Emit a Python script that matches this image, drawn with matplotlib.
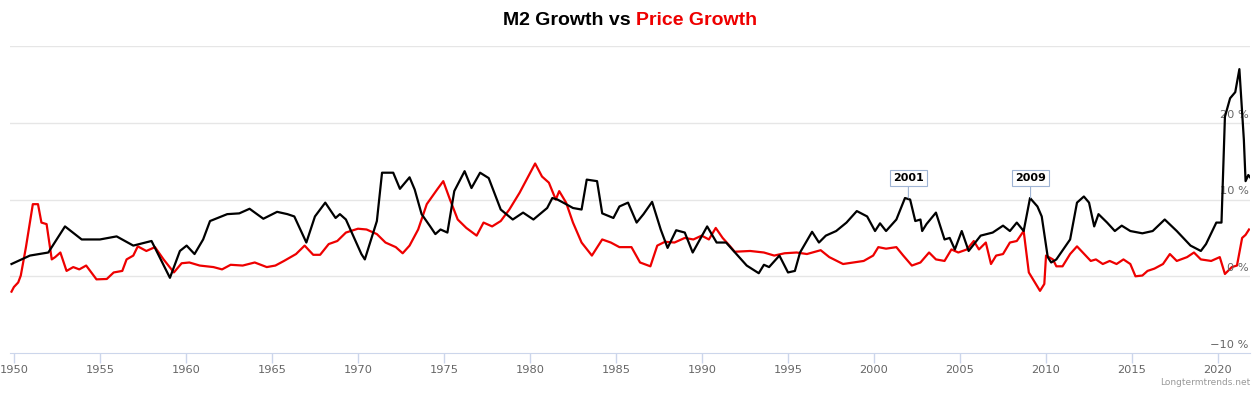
import matplotlib
matplotlib.use("Agg")
import matplotlib.pyplot as plt
from matplotlib.transforms import blended_transform_factory

# M2 growth (black): decimal year, % yoy
m2_years = [1949.86, 1950.93, 1952.0, 1952.97, 1953.94, 1955.0, 1955.97, 1956.94, 1958.0, 1959.07,
            1959.65, 1960.04, 1960.5, 1961.0, 1961.4, 1962.4, 1963.1, 1963.7, 1964.5, 1965.3,
            1965.9, 1966.3, 1967.0, 1967.5, 1968.1, 1968.7, 1968.95, 1969.3, 1970.2, 1970.4,
            1971.1, 1971.4, 1972.05, 1972.44, 1973.0, 1973.3, 1973.7, 1974.2, 1974.5, 1974.8,
            1975.2, 1975.6, 1976.2, 1976.6, 1977.1, 1977.6, 1978.3, 1979.0, 1979.6, 1980.2,
            1981.0, 1981.3, 1981.6, 1982.1, 1982.5, 1983.0, 1983.3, 1983.9, 1984.2, 1984.85,
            1985.2, 1985.7, 1986.2, 1986.6, 1987.1, 1987.6, 1988.0, 1988.5, 1989.0, 1989.46,
            1990.3, 1990.85, 1991.4, 1992.0, 1992.6, 1993.3, 1993.6, 1993.9, 1994.5, 1995.0,
            1995.4, 1995.7, 1996.4, 1996.8, 1997.2, 1997.8, 1998.4, 1999.0, 1999.6, 2000.06,
            2000.35, 2000.7, 2001.3, 2001.8, 2002.1, 2002.4, 2002.7, 2002.8, 2003.05, 2003.6,
            2004.1, 2004.4, 2004.7, 2005.1, 2005.5, 2006.2, 2006.9, 2007.5, 2007.9, 2008.3,
            2008.7, 2009.07, 2009.5, 2009.75, 2010.1, 2010.3, 2010.6, 2011.4, 2011.8, 2012.2,
            2012.5, 2012.8, 2013.05, 2013.55, 2014.0, 2014.4, 2014.9, 2015.6, 2016.2, 2016.9,
            2017.6, 2018.4, 2019.0, 2019.3, 2019.9, 2020.2, 2020.4, 2020.7, 2021.0, 2021.24,
            2021.5, 2021.6, 2021.76, 2021.86]
m2_values = [1.6, 2.7, 3.1, 6.5, 4.8, 4.8, 5.2, 4.0, 4.6, -0.2,
             3.3, 4.0, 2.9, 4.8, 7.2, 8.1, 8.2, 8.8, 7.5, 8.4,
             8.1, 7.8, 4.4, 7.8, 9.6, 7.6, 8.1, 7.4, 2.9, 2.2,
             7.2, 13.5, 13.5, 11.4, 12.9, 11.3, 8.1, 6.5, 5.5, 6.1,
             5.7, 11.1, 13.7, 11.5, 13.5, 12.8, 8.7, 7.4, 8.3, 7.4,
             8.9, 10.2, 10.0, 9.4, 8.9, 8.7, 12.6, 12.4, 8.2, 7.6,
             9.1, 9.6, 7.0, 8.1, 9.7, 6.1, 3.7, 6.0, 5.7, 3.1,
             6.5, 4.4, 4.4, 2.9, 1.4, 0.4, 1.5, 1.2, 2.7, 0.5,
             0.7, 3.1, 5.8, 4.4, 5.3, 5.9, 7.0, 8.5, 7.8, 5.9,
             6.9, 5.9, 7.4, 10.2, 10.0, 7.2, 7.4, 5.9, 6.8, 8.3,
             4.8, 5.0, 3.5, 5.9, 3.3, 5.3, 5.7, 6.6, 5.9, 7.0,
             5.9, 10.2, 9.1, 7.8, 2.5, 1.8, 2.2, 4.8, 9.6, 10.4,
             9.6, 6.5, 8.1, 7.0, 5.9, 6.6, 5.9, 5.6, 5.9, 7.4,
             5.9, 4.0, 3.3, 4.2, 7.0, 7.0, 20.8, 23.2, 24.0, 27.0,
             17.8, 12.4, 13.2, 12.9]

# price growth (red)
cpi_years = [1949.86, 1950.0, 1950.25, 1950.4, 1950.7, 1951.1, 1951.4, 1951.6, 1951.9, 1952.2,
             1952.4, 1952.7, 1953.06, 1953.45, 1953.8, 1954.2, 1954.8, 1955.4, 1955.8, 1956.3,
             1956.55, 1956.94, 1957.2, 1957.7, 1958.2, 1958.7, 1959.3, 1959.75, 1960.2, 1960.8,
             1961.6, 1962.1, 1962.6, 1963.3, 1964.0, 1964.7, 1965.2, 1965.7, 1966.4, 1966.9,
             1967.4, 1967.8, 1968.3, 1968.8, 1969.3, 1970.0, 1970.5, 1971.1, 1971.6, 1972.2,
             1972.6, 1973.0, 1973.5, 1974.0, 1974.6, 1974.96, 1975.35, 1975.8, 1976.3, 1976.9,
             1977.3, 1977.8, 1978.3, 1978.8, 1979.4, 1979.9, 1980.3, 1980.7, 1981.1, 1981.5,
             1981.7, 1982.1, 1982.5, 1983.0, 1983.6, 1984.2, 1984.7, 1985.2, 1985.9, 1986.4,
             1987.0, 1987.4, 1987.85, 1988.4, 1989.0, 1989.5, 1989.98, 1990.4, 1990.8, 1991.2,
             1991.6, 1991.9, 1992.8, 1993.6, 1994.2, 1994.8, 1995.5, 1996.1, 1996.9, 1997.4,
             1998.2, 1998.8, 1999.4, 1999.95, 2000.25, 2000.7, 2001.3, 2001.7, 2002.2, 2002.7,
             2003.2, 2003.6, 2004.1, 2004.5, 2004.9, 2005.4, 2005.8, 2006.1, 2006.5, 2006.8,
             2007.1, 2007.5, 2007.9, 2008.3, 2008.7, 2009.0, 2009.3, 2009.65, 2009.9, 2010.0,
             2010.4, 2010.6, 2010.96, 2011.4, 2011.8, 2012.3, 2012.6, 2012.9, 2013.3, 2013.7,
             2014.1, 2014.5, 2014.9, 2015.2, 2015.6, 2015.9, 2016.3, 2016.8, 2017.2, 2017.6,
             2018.2, 2018.6, 2019.0, 2019.6, 2020.1, 2020.4, 2020.8, 2021.1, 2021.4, 2021.6,
             2021.8]
cpi_values = [-2.0, -1.4, -0.8, 0.1, 3.8, 9.4, 9.4, 7.0, 6.8, 2.2,
              2.5, 3.1, 0.7, 1.2, 0.9, 1.4, -0.4, -0.35, 0.5, 0.7,
              2.2, 2.7, 3.9, 3.3, 3.8, 2.2, 0.5, 1.7, 1.8, 1.4,
              1.2, 0.9, 1.5, 1.4, 1.8, 1.2, 1.4, 2.0, 2.9, 4.0,
              2.8, 2.8, 4.2, 4.6, 5.7, 6.2, 6.1, 5.5, 4.4, 3.8,
              3.0, 4.0, 6.1, 9.4, 11.3, 12.4, 10.0, 7.4, 6.3, 5.3,
              7.0, 6.5, 7.2, 8.7, 10.9, 13.0, 14.7, 13.0, 12.2, 10.0,
              11.1, 9.6, 7.0, 4.4, 2.7, 4.8, 4.4, 3.8, 3.8, 1.8,
              1.3, 4.0, 4.5, 4.4, 5.0, 4.8, 5.3, 4.8, 6.3, 5.0,
              4.0, 3.2, 3.3, 3.1, 2.7, 3.0, 3.1, 2.9, 3.4, 2.5,
              1.6, 1.8, 2.0, 2.7, 3.8, 3.6, 3.8, 2.7, 1.4, 1.8,
              3.1, 2.2, 2.0, 3.5, 3.1, 3.5, 4.6, 3.5, 4.4, 1.6,
              2.7, 2.9, 4.4, 4.6, 5.9, 0.5, -0.6, -1.9, -1.0, 2.7,
              2.2, 1.3, 1.3, 2.9, 3.9, 2.7, 2.0, 2.2, 1.6, 2.0,
              1.6, 2.2, 1.6, 0.0, 0.1, 0.7, 1.0, 1.6, 2.9, 2.0,
              2.5, 3.1, 2.2, 2.0, 2.5, 0.3, 1.2, 1.4, 5.0, 5.4,
              6.1]

x_ticks = [1950, 1955, 1960, 1965, 1970, 1975, 1980, 1985, 1990, 1995, 2000, 2005, 2010, 2015, 2020]
y_ticks = [-10, 0, 10, 20, 30]
y_labels = ["\u221210 %", "0 %", "10 %", "20 %"]

flag_labels = ["2001", "2009"]
flag_x = [2002.0, 2009.1]
flag_y = [10.2, 10.2]

fig = plt.figure(figsize=(12.6, 3.94), dpi=100)
ax = fig.add_axes([0.0079, 0.104, 0.9842, 0.779])

grid_c = "#e6e6e6"
axis_c = "#ccd6eb"
for y in y_ticks[1:]:
    ax.axhline(y, color=grid_c, lw=1, zorder=0)

ax.plot(cpi_years, cpi_values, color="#ee0000", lw=1.6, zorder=3, solid_joinstyle="round")
ax.plot(m2_years, m2_values, color="black", lw=1.6, zorder=4, solid_joinstyle="round")

ax.set_xlim(1949.77, 2021.86)
ax.set_ylim(-10, 30)
for s in ["top", "left", "right"]:
    ax.spines[s].set_visible(False)
ax.spines["bottom"].set_color(axis_c)
ax.set_xticks(x_ticks)
ax.set_xticklabels([str(v) for v in x_ticks])
ax.tick_params(axis="x", colors=axis_c, labelcolor="#666666", labelsize=8.2, length=7, width=1, pad=1.5)
ax.set_yticks([])

tr = blended_transform_factory(ax.transAxes, ax.transData)
for v, lab in zip(y_ticks[:-1], y_labels):
    ax.text(0.999, v + 0.4, lab, transform=tr, ha="right", va="bottom",
            fontsize=8.2, color="#666666")

for lab, x, y in zip(flag_labels, flag_x, flag_y):
    ax.annotate(lab, xy=(x, y), xytext=(0, 20), textcoords="offset pixels",
                ha="center", va="center", fontsize=8, fontweight="bold", color="black",
                bbox=dict(boxstyle="square,pad=0.3", fc="white", ec="#9fb4d4", lw=0.8),
                arrowprops=dict(arrowstyle="-", color="#9fb4d4", lw=0.8, shrinkA=0, shrinkB=0),
                zorder=6)

fig.text(0.992, 0.028, "Longtermtrends.net", ha="right", va="center", fontsize=6.5, color="#999999")

# two-colour title, centred as a whole
tfont = dict(fontsize=14, fontweight="bold", family="Liberation Sans", va="center")
t1 = fig.text(0.5, 0.949, "M2 Growth vs ", color="black", ha="left", **tfont)
t2 = fig.text(0.5, 0.949, "Price Growth", color="#ee0000", ha="left", **tfont)
fig.canvas.draw()
r = fig.canvas.get_renderer()
w1 = t1.get_window_extent(r).width
w2 = t2.get_window_extent(r).width
W = fig.bbox.width
x0 = W / 2 - (w1 + w2) / 2
t1.set_x(x0 / W)
t2.set_x((x0 + w1) / W)

fig.savefig("out.png", dpi=100)
